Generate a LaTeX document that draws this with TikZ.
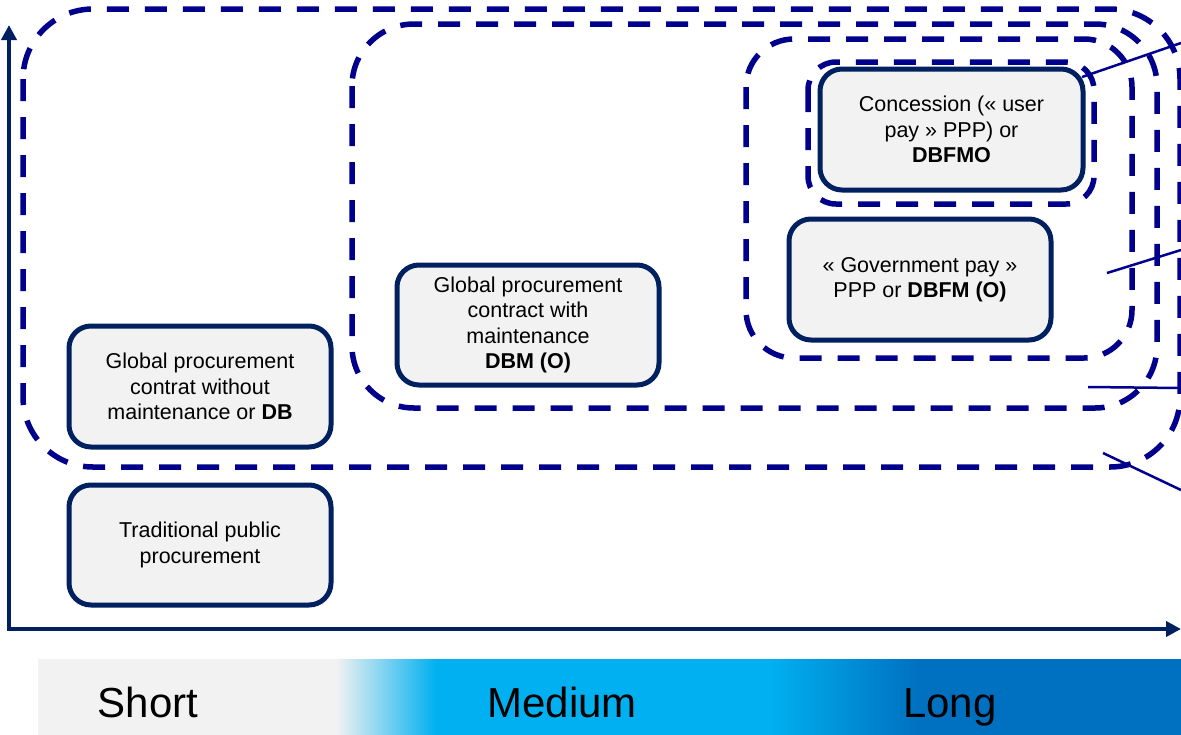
\documentclass[tikz,border=0pt]{standalone}
\usepackage{fontspec}
\setmainfont{Liberation Sans}
\usetikzlibrary{arrows.meta}

\definecolor{axisnavy}{RGB}{0,32,96}
\definecolor{framenavy}{RGB}{0,0,140}
\definecolor{boxfill}{RGB}{242,242,242}
\definecolor{barcyan}{RGB}{0,176,240}
\definecolor{barblue}{RGB}{0,112,192}

\tikzset{
  axisline/.style={line width=4.5pt, draw=axisnavy, -{Triangle[width=15pt,length=15pt]}},
  groupframe/.style={draw=framenavy, line width=5.5pt, dash pattern=on 22pt off 16pt},
  stagebox/.style={draw=axisnavy, fill=boxfill, line width=5pt, rounded corners=22pt,
    align=center, inner sep=0pt, minimum width=262pt, minimum height=120pt,
    font=\fontsize{21.5}{25.5}\selectfont},
  callout/.style={draw=framenavy, line width=2.5pt},
  barlabel/.style={font=\fontsize{42}{46}\selectfont, text=black, inner sep=0pt, anchor=base}
}

\begin{document}
\begin{tikzpicture}[x=1pt, y=-1pt]
  \useasboundingbox (0,0) rectangle (1181,734);

  % duration bar: short / medium / long
  \fill[boxfill] (38,659) rectangle (337,740);
  \shade[left color=boxfill, right color=barcyan] (336,659) rectangle (436,740);
  \fill[barcyan] (435,659) rectangle (771,740);
  \shade[left color=barcyan, right color=barblue] (770,659) rectangle (921,740);
  \fill[barblue] (920,659) rectangle (1185,740);
  \node[barlabel] (short)  at (148,717) {Short};
  \node[barlabel] (medium) at (562,717) {Medium};
  \node[barlabel] (long)   at (950,717) {Long};

  % axes
  \coordinate (origin) at (9,629);
  \coordinate (ytop) at (9,25);
  \coordinate (xend) at (1181,629);
  \draw[axisline] ([xshift=-2.25pt]origin) -- (xend);
  \draw[axisline] ([yshift=2.25pt]origin) -- (ytop);

  % nested groupings of contract forms
  \draw[groupframe, rounded corners=70pt] (23,9) rectangle (1180,467);
  \draw[groupframe, rounded corners=62pt] (352,24) rectangle (1157,408);
  \draw[groupframe, rounded corners=48pt] (746,39) rectangle (1132,358);
  \draw[groupframe, rounded corners=28pt] (808,62) rectangle (1094,204);

  % contract forms
  \node[stagebox] (trad) at (200,545) {Traditional public\\procurement};
  \node[stagebox, minimum height=121pt] (db) at (200,386.5)
    {Global procurement\\contrat without\\maintenance or \textbf{DB}};
  \node[stagebox] (dbm) at (528,325)
    {Global procurement\\contract with\\maintenance\\\textbf{DBM (O)}};
  \node[stagebox, minimum width=263pt, minimum height=121pt] (dbfmo) at (951.5,129.5)
    {Concession (« user\\pay » PPP) or\\\textbf{DBFMO}};
  \node[stagebox, minimum height=121pt] (dbfm) at (920,279.5)
    {« Government pay »\\PPP or \textbf{DBFM (O)}};

  % callout leaders running off to the right
  \coordinate (c1a) at (1082,77);   \coordinate (c1b) at (1181,43);
  \coordinate (c2a) at (1107,273);  \coordinate (c2b) at (1181,250);
  \coordinate (c3a) at (1088,387);  \coordinate (c3b) at (1181,388);
  \coordinate (c4a) at (1103,453);  \coordinate (c4b) at (1181,490);
  \draw[callout] (c1a) -- (c1b);
  \draw[callout] (c2a) -- (c2b);
  \draw[callout] (c3a) -- (c3b);
  \draw[callout] (c4a) -- (c4b);
\end{tikzpicture}
\end{document}
